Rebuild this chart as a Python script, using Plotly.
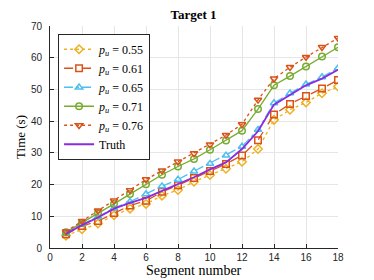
import plotly.graph_objects as go

segments = list(range(1, 19))
p055 = [3.9, 5.9, 7.7, 10.3, 12.4, 13.9, 16.5, 18.3, 20.9, 23.0, 25.0, 27.2, 31.2, 40.4, 43.6, 45.9, 48.8, 50.9]
p061 = [4.3, 6.9, 8.5, 11.0, 13.4, 14.9, 17.7, 19.8, 22.1, 24.3, 26.5, 29.2, 34.0, 42.1, 45.4, 47.9, 50.3, 53.0]
p065 = [4.6, 7.5, 9.8, 12.6, 14.6, 17.0, 19.5, 21.6, 24.2, 26.6, 29.2, 32.0, 37.3, 45.7, 48.8, 51.6, 53.9, 56.7]
p071 = [5.0, 7.9, 11.0, 13.9, 17.0, 20.1, 23.1, 25.7, 28.1, 31.0, 33.9, 37.0, 43.8, 51.3, 54.2, 57.2, 60.4, 63.3]
p076 = [5.2, 8.5, 11.8, 14.9, 18.2, 21.6, 24.4, 27.2, 29.8, 32.6, 35.6, 39.0, 46.7, 53.4, 57.0, 60.2, 63.3, 66.2]
truth = [4.5, 7.2, 9.6, 12.4, 14.2, 15.8, 18.0, 20.1, 22.3, 24.8, 27.0, 31.2, 36.8, 45.2, 48.2, 51.3, 53.4, 56.2]
labels = ["0.55", "0.61", "0.65", "0.71", "0.76"]

series = [
    (p055, "#EDB120", "dot", "diamond-open"),
    (p061, "#D95319", "dash", "square-open"),
    (p065, "#4DBEEE", "dashdot", "triangle-up-open"),
    (p071, "#77AC30", "solid", "circle-open"),
    (p076, "#D95319", "dot", "triangle-down-open"),
]

SERIF = "Liberation Serif, Times New Roman"
# the page body adds an 8px offset, so the figure is sized to fill the rest
W, H = 366, 272
L, R, T, B = 41, 36, 13, 31.5
plot_h = H - T - B

fig = go.Figure()
for (vals, col, dash, sym), lab in zip(series, labels):
    fig.add_trace(go.Scatter(
        x=segments, y=vals, mode="lines+markers",
        name=f"<i>p</i><sub><i>u</i></sub> = {lab}",
        line=dict(color=col, dash=dash, width=1.3),
        marker=dict(symbol=sym, size=6.5, color=col, line=dict(width=1.5, color=col)),
    ))
fig.add_trace(go.Scatter(
    x=segments, y=truth, mode="lines", name="Truth",
    line=dict(color="#8A2BE2", width=1.8),
))

axis_common = dict(
    showgrid=True, gridcolor="#e6e6e6", gridwidth=1,
    showline=True, linecolor="#262626", linewidth=1,
    ticks="inside", ticklen=4, tickcolor="#262626",
    tickfont=dict(family="Liberation Sans, Arial", size=10, color="#262626"),
    zeroline=False, mirror=False,
)

fig.update_layout(
    width=W, height=H,
    margin=dict(l=L, r=R, t=T, b=B),
    paper_bgcolor="white", plot_bgcolor="white",
    title=dict(text="<b>Target 1</b>", x=(L + (W - R)) / 2 / W, xanchor="center",
               y=1 - 1.5 / H, yanchor="top", pad=dict(t=0, b=0),
               font=dict(family=SERIF, size=13, color="black")),
    xaxis=dict(range=[0, 18], dtick=2, ticklabelstandoff=0, **axis_common),
    yaxis=dict(range=[0, 70], dtick=10, ticklabelstandoff=5,
               title=dict(text="Time (s)", standoff=2,
                          font=dict(family=SERIF, size=13, color="black")),
               **axis_common),
    legend=dict(x=0.028, y=0.965, xanchor="left", yanchor="top",
                bgcolor="white", bordercolor="#262626", borderwidth=1,
                font=dict(family=SERIF, size=12, color="black"),
                tracegroupgap=0, itemwidth=30),
    showlegend=True,
    annotations=[dict(text="Segment number", xref="paper", yref="paper",
                      x=0.5, y=-23.5 / plot_h, xanchor="center", yanchor="middle",
                      showarrow=False, font=dict(family=SERIF, size=14, color="black"))],
)

fig.write_html("out.html")
